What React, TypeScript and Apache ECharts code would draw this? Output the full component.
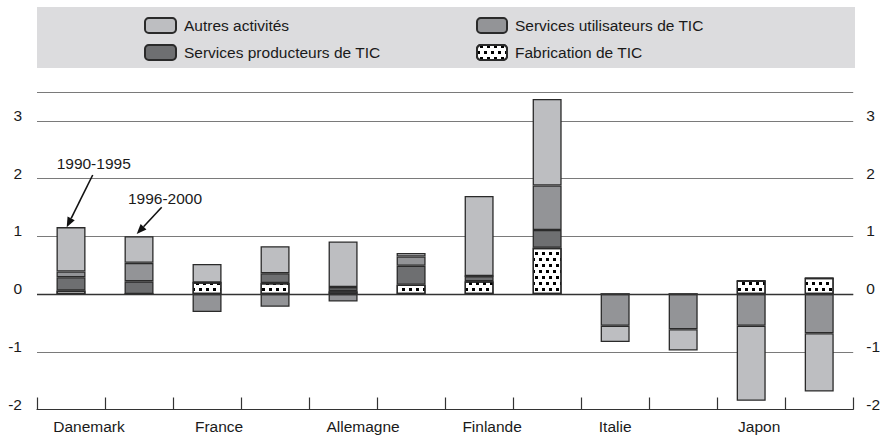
import React, { useEffect, useRef } from "react";
import * as echarts from "echarts";

const countries = ["Danemark", "France", "Allemagne", "Finlande", "Italie", "Japon"];
const periods = ["1990-1995", "1996-2000"];
const categories = countries.flatMap((c) => periods.map((p) => `${c} ${p}`));
const yTickLabels = ["-2", "-1", "0", "1", "2", "3"];

// order of bars: Dk90, Dk96, Fr90, Fr96, De90, De96, Fi90, Fi96, It90, It96, Jp90, Jp96
const fabrication = [0.06, 0, 0.2, 0.19, 0.05, 0.16, 0.22, 0.8, 0, 0, 0.23, 0.28];
const producteurs = [0.23, 0.22, 0, 0.17, 0.07, 0.33, 0.09, 0.31, 0, 0, 0, 0];
const utilisateurs = [0.1, 0.32, -0.31, -0.22, -0.13, 0.16, 0, 0.77, -0.55, -0.61, -0.55, -0.68];
const autres = [0.77, 0.46, 0.32, 0.47, 0.79, 0.06, 1.39, 1.5, -0.28, -0.37, -1.3, -1.01];

const seriesNames = {
  autres: "Autres activités",
  utilisateurs: "Services utilisateurs de TIC",
  producteurs: "Services producteurs de TIC",
  fabrication: "Fabrication de TIC",
};

const FONT = "'Liberation Sans', Arial, Helvetica, sans-serif";
const FS = 15.5;
const TEXT = "#1a1a1a";
const BORDER = "#2a2a2a";
const labelShift = [18, 12, 20, 13, 0, 8];

function arrow(x1: number, y1: number, tx: number, ty: number) {
  const dx = tx - x1;
  const dy = ty - y1;
  const len = Math.sqrt(dx * dx + dy * dy);
  const ux = dx / len;
  const uy = dy / len;
  const hl = 10;
  const hw = 4;
  const bx = tx - hl * ux;
  const by = ty - hl * uy;
  const px = -uy;
  const py = ux;
  return [
    {
      type: "line",
      shape: { x1, y1, x2: bx, y2: by },
      style: { stroke: "#111", lineWidth: 1.6 },
      z: 10,
    },
    {
      type: "polygon",
      shape: {
        points: [
          [tx, ty],
          [bx + hw * px, by + hw * py],
          [bx - hw * px, by - hw * py],
        ],
      },
      style: { fill: "#111" },
      z: 10,
    },
  ];
}

export default function App() {
  const ref = useRef<HTMLDivElement>(null);

  useEffect(() => {
    if (!ref.current) return;
    const chart = echarts.init(ref.current, null, { renderer: "svg" });

    const rich: Record<string, any> = {};
    countries.forEach((c, i) => {
      rich[`c${i}`] = {
        fontSize: FS,
        fontFamily: FONT,
        color: TEXT,
        padding: [0, 0, 0, 2 * labelShift[i]],
      };
    });

    const barBase = {
      type: "bar",
      stack: "total",
      barWidth: 29,
      xAxisIndex: 0,
      yAxisIndex: 0,
    };

    const legendText = {
      fontSize: FS,
      color: TEXT,
      fontFamily: FONT,
      lineHeight: 15,
      padding: [0, 0, 0, 3],
    };

    const option: any = {
      animation: false,
      textStyle: { fontFamily: FONT },
      grid: { left: 37, right: 28, top: 92, bottom: 28.5, containLabel: false },
      graphic: [
        {
          type: "rect",
          shape: { x: 37, y: 7, width: 818, height: 61 },
          style: { fill: "#dcdcde" },
          z: 0,
          silent: true,
        },
        {
          type: "text",
          x: 93.7,
          y: 163.5,
          style: {
            text: periods[0],
            align: "center",
            verticalAlign: "middle",
            fontSize: FS,
            fontFamily: FONT,
            fill: TEXT,
          },
          z: 10,
        },
        {
          type: "text",
          x: 165,
          y: 198,
          style: {
            text: periods[1],
            align: "center",
            verticalAlign: "middle",
            fontSize: FS,
            fontFamily: FONT,
            fill: TEXT,
          },
          z: 10,
        },
        ...arrow(92.7, 175, 66.7, 227.3),
        ...arrow(161.7, 207.3, 136.7, 234),
      ],
      legend: [
        {
          data: [seriesNames.autres, seriesNames.producteurs],
          orient: "vertical",
          left: 144,
          top: 17,
          itemWidth: 31,
          itemHeight: 15,
          itemGap: 10,
          padding: 0,
          textStyle: legendText,
          selectedMode: false,
        },
        {
          data: [seriesNames.utilisateurs, seriesNames.fabrication],
          orient: "vertical",
          left: 476,
          top: 17,
          itemWidth: 30,
          itemHeight: 15,
          itemGap: 10,
          padding: 0,
          textStyle: legendText,
          selectedMode: false,
        },
      ],
      xAxis: {
        type: "category",
        data: categories,
        boundaryGap: true,
        axisLine: { onZero: false, lineStyle: { color: "#333", width: 1.2 } },
        axisTick: { show: true, inside: true, length: 12, interval: 0, lineStyle: { color: "#333", width: 1.2 } },
        axisLabel: {
          interval: 0,
          margin: 9,
          fontSize: FS,
          color: TEXT,
          fontFamily: FONT,
          rich,
          formatter: (_v: string, index: number) =>
            index % 2 === 0 ? `{c${index / 2}|${countries[index / 2]}}` : "",
        },
        splitLine: { show: false },
      },
      yAxis: [0, 1].map((i) => ({
        type: "value",
        min: -2,
        max: 3.5,
        interval: 1,
        position: i === 0 ? "left" : "right",
        axisLine: { show: false },
        axisTick: { show: false },
        splitLine: { show: i === 0, lineStyle: { color: "#7a7a7a", width: 1 } },
        axisLabel: {
          fontSize: FS,
          color: TEXT,
          fontFamily: FONT,
          margin: i === 0 ? 15 : 13,
          rich: {
            t: { fontSize: FS, fontFamily: FONT, color: TEXT, padding: [0, 0, 11, 0] },
          },
          formatter: (v: number) => {
            const idx = Math.round(v) + 2;
            return Math.abs(v - Math.round(v)) < 1e-6 && idx >= 0 && idx < yTickLabels.length
              ? `{t|${yTickLabels[idx]}}`
              : "";
          },
        },
      })),
      series: [
        {
          ...barBase,
          name: seriesNames.fabrication,
          data: fabrication,
          itemStyle: {
            color: "#ffffff",
            borderColor: BORDER,
            borderWidth: 1.3,
            decal: {
              symbol: "rect",
              symbolSize: 1,
              color: "#000000",
              backgroundColor: "rgba(0,0,0,0)",
              dashArrayX: [
                [2.5, 3.5],
                [0, 3, 2.5, 0.5],
              ],
              dashArrayY: [2.5, 2.5],
              rotation: 0,
            },
          },
          markLine: {
            silent: true,
            symbol: "none",
            label: { show: false },
            lineStyle: { color: "#333", width: 1.3, type: "solid" },
            data: [{ yAxis: 0 }],
          },
        },
        {
          ...barBase,
          name: seriesNames.producteurs,
          data: producteurs,
          itemStyle: { color: "#6e6f71", borderColor: BORDER, borderWidth: 1.3 },
        },
        {
          ...barBase,
          name: seriesNames.utilisateurs,
          data: utilisateurs,
          itemStyle: { color: "#939497", borderColor: BORDER, borderWidth: 1.3 },
        },
        {
          ...barBase,
          name: seriesNames.autres,
          data: autres,
          itemStyle: { color: "#bdbec1", borderColor: BORDER, borderWidth: 1.3 },
        },
      ],
    };

    chart.setOption(option);
    return () => chart.dispose();
  }, []);

  return (
    <div
      ref={ref}
      style={{ position: "absolute", left: 0, top: 0, width: 883, height: 438, background: "#fff" }}
    />
  );
}
